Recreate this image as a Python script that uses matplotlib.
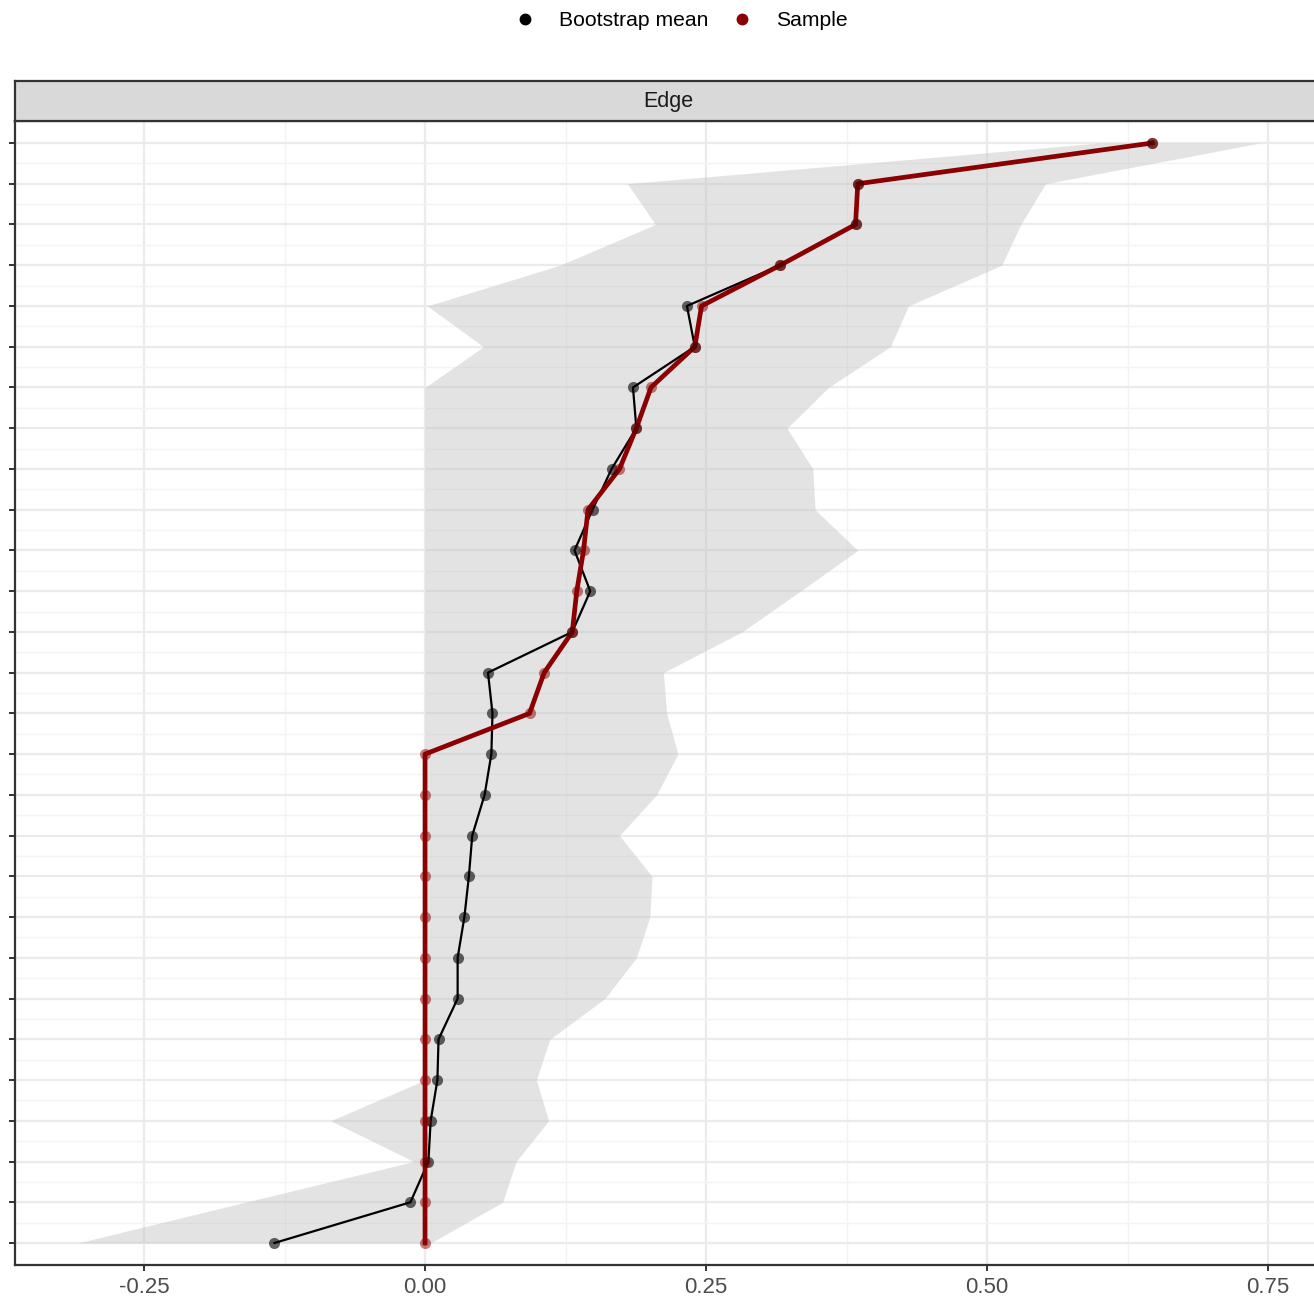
import numpy as np
import matplotlib
matplotlib.use("Agg")
import matplotlib.pyplot as plt
from matplotlib.lines import Line2D

plt.rcParams["font.family"] = ["Liberation Sans", "DejaVu Sans"]

# edges ordered from strongest (top) to weakest (bottom); labels are hidden in the chart
edge_rank = list(range(28))

sample_vals = [0.647, 0.385, 0.383, 0.316, 0.246, 0.240, 0.201, 0.188, 0.173, 0.145,
               0.141, 0.135, 0.131, 0.106, 0.093, 0.0, 0.0, 0.0, 0.0, 0.0,
               0.0, 0.0, 0.0, 0.0, 0.0, 0.0, 0.0, 0.0]
boot_mean = [0.647, 0.385, 0.383, 0.316, 0.233, 0.240, 0.185, 0.188, 0.166, 0.149,
             0.133, 0.147, 0.131, 0.056, 0.060, 0.059, 0.053, 0.042, 0.039, 0.035,
             0.029, 0.029, 0.012, 0.011, 0.005, 0.003, -0.013, -0.134]
ci_lower = [0.600, 0.180, 0.205, 0.120, 0.002, 0.052, 0.0, 0.0, 0.0, 0.0,
            0.0, 0.0, 0.0, 0.0, 0.0, 0.0, 0.0, 0.0, 0.0, 0.0,
            0.0, 0.0, 0.0, 0.0, -0.084, -0.010, -0.160, -0.309]
ci_upper = [0.743, 0.552, 0.530, 0.513, 0.430, 0.414, 0.359, 0.322, 0.345, 0.347,
            0.385, 0.334, 0.282, 0.212, 0.215, 0.225, 0.206, 0.173, 0.202, 0.200,
            0.188, 0.160, 0.111, 0.099, 0.110, 0.081, 0.069, 0.005]

x_ticks = [-0.25, 0.0, 0.25, 0.50, 0.75]
x_tick_labels = ["-0.25", "0.00", "0.25", "0.50", "0.75"]

W, H = 1314, 1299
fig = plt.figure(figsize=(W / 100, H / 100), dpi=100)

# panel (right border falls just outside the image, as in the reference)
left, right = 15, 1322
top, bottom = 121, 1265
ax = fig.add_axes([left / W, 1 - bottom / H, (right - left) / W, (bottom - top) / H])

y = np.array(edge_rank)
ax.set_xlim(-0.3648, 0.798)
ax.set_ylim(27.54, -0.54)

ax.fill_betweenx(y, ci_lower, ci_upper, color="#BEBEBE", alpha=0.42, linewidth=0, zorder=2)

ax.plot(boot_mean, y, color="black", linewidth=1.6, zorder=3)
ax.plot(sample_vals, y, color="#8B0000", linewidth=3.4, zorder=4)
ax.plot(boot_mean, y, linestyle="none", marker="o", markersize=8,
        color="black", alpha=0.6, markeredgewidth=0, zorder=5)
ax.plot(sample_vals, y, linestyle="none", marker="o", markersize=8,
        color="#8B0000", alpha=0.5, markeredgewidth=0, zorder=6)

ax.set_xticks(x_ticks)
ax.set_xticklabels(x_tick_labels)
ax.set_xticks([-0.125, 0.125, 0.375, 0.625], minor=True)
ax.set_yticks(y)
ax.set_yticklabels([])
ax.set_yticks(y[:-1] + 0.5, minor=True)

ax.grid(True, which="major", color="#EBEBEB", linewidth=1.6, zorder=0)
ax.grid(True, which="minor", color="#F3F3F3", linewidth=1.0, zorder=0)
ax.set_axisbelow(True)

ax.tick_params(axis="both", which="major", length=4.5, width=1.4, color="#333333",
               labelsize=16, labelcolor="#4D4D4D", pad=4)
ax.tick_params(axis="both", which="minor", length=0)
for s in ax.spines.values():
    s.set_color("#333333")
    s.set_linewidth(1.6)

# facet strip
strip_top = 81
sax = fig.add_axes([left / W, 1 - top / H, (right - left) / W, (top - strip_top) / H])
sax.set_facecolor("#D9D9D9")
sax.set_xticks([])
sax.set_yticks([])
for s in sax.spines.values():
    s.set_color("#333333")
    s.set_linewidth(1.6)
sax.text((668 - left) / (right - left), 0.5, "Edge", transform=sax.transAxes,
         ha="center", va="center", fontsize=15.5, color="#1A1A1A")

# legend at top
handles = [Line2D([], [], linestyle="none", marker="o", markersize=7.5, color="black"),
           Line2D([], [], linestyle="none", marker="o", markersize=7.5, color="#8B0000")]
fig.legend(handles, ["Bootstrap mean", "Sample"], loc="center",
           bbox_to_anchor=(681 / W, 1 - 21 / H), ncol=2, frameon=False,
           fontsize=15.2, handlelength=1.0, handletextpad=1.1, columnspacing=1.1,
           borderpad=0)

fig.savefig("out.png", dpi=100)
